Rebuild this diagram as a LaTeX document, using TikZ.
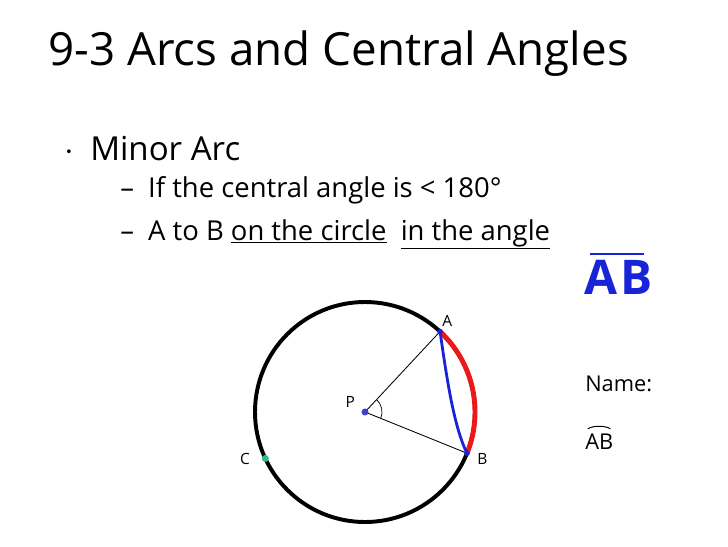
\documentclass[tikz,border=0pt]{standalone}
\usepackage{fontspec}
\setmainfont{Open Sans}
\usetikzlibrary{positioning}
\definecolor{bluei}{RGB}{25,35,215}
\definecolor{redi}{RGB}{235,25,25}
\definecolor{greeni}{RGB}{40,190,140}
\definecolor{bluedot}{RGB}{65,65,200}
\tikzset{
      mytitle/.style={
        anchor=base west,
        inner sep=0pt,
        font=\fontsize{32.5}{38}\selectfont
      },
      mybullet/.style={
        anchor=base west,
        inner sep=0pt,
        font=\fontsize{23.5}{28}\selectfont
      },
      mysubitem/.style={
        anchor=base west,
        inner sep=0pt,
        font=\fontsize{19.5}{23}\selectfont
      },
      mylabel/.style={
        inner sep=1pt,
        font=\fontsize{11}{13}\selectfont
      },
      mynote/.style={
        anchor=base west,
        inner sep=0pt,
        font=\fontsize{15.5}{18}\selectfont
      },
      mydot/.style={
        circle,
        fill=#1,
        inner sep=0pt,
        minimum size=6pt
      },
    }

\begin{document}
\begin{tikzpicture}[x=0.025cm,y=-0.025cm]

          \useasboundingbox[fill=white] (0,0) rectangle (728,546);

          % text
          \node[mytitle] (title) at (48,65) {9-3 Arcs and Central Angles};
          \node[mybullet] (bullet) at (64,160) {$\cdot$};
          \node[mybullet] (minor) at (90,160) {Minor Arc};
          \node[mysubitem] (item1) at (120,197) {–\ \ If the central angle is < 180°};
          \node[mysubitem] (item2) at (120,240)
            {–\ \ A to B \underline{on the circle}\ \ \underline{in the angle}};

          % circle
          \coordinate (P) at (365,412);
          \path (P) ++(-47:110) coordinate (A);
          \path (P) ++(22:110) coordinate (B);
          \path (P) ++(155:110) coordinate (C);

          \draw[line width=2.8pt] (P) circle[radius=110];
          \draw[redi, line width=3.5pt] (A) arc[start angle=-47, end angle=22, radius=110];
          \draw[line width=0.6pt] (P) -- (A) (P) -- (B);
          \draw[line width=0.5pt] (P) ++(-47:17) arc[start angle=-47, end angle=22, radius=17];
          \draw[bluei, line width=2pt] (A) .. controls (446,372) and (453,425) .. (B);

          \node[mydot=bluedot, minimum size=5pt] (pdot) at (P) {};
          \node[mydot=bluei, minimum size=4pt] (adot) at (A) {};
          \node[mydot=bluei, minimum size=4pt] (bdot) at (B) {};
          \node[mydot=greeni, minimum size=5pt] (cdot) at (C) {};

          \node[mylabel, above right=1pt and -1pt of adot] (alabel) {A};
          \node[mylabel, right=4pt of bdot, yshift=-4pt] (blabel) {B};
          \node[mylabel, above left=0pt and 4pt of pdot] (plabel) {P};
          \node[mylabel, left=7pt of cdot] (clabel) {C};

          % notes on the right
          \node[anchor=base west, inner sep=0pt, text=bluei,
            font=\fontsize{34}{38}\bfseries] (hand) at (584,294) {A\kern2pt B};
          \draw[bluei, line width=1.8pt] ([xshift=4pt,yshift=4pt]hand.north west)
            -- ([xshift=-6pt,yshift=4pt]hand.north east);

          \node[mynote] (name) at (585,391) {Name:};
          \node[mynote] (arcname) at (585,449) {AB};
          \draw[line width=0.7pt] ([xshift=2pt,yshift=3pt]arcname.north west)
            arc[start angle=200, end angle=340, x radius=12, y radius=4];

\end{tikzpicture}
\end{document}
